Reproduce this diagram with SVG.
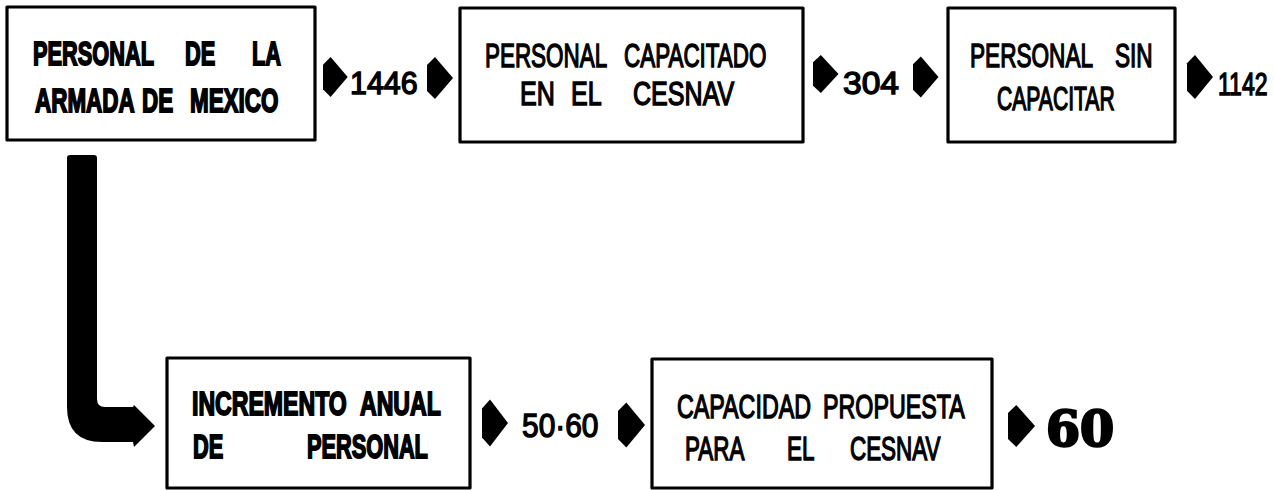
<svg xmlns="http://www.w3.org/2000/svg" xmlns:xlink="http://www.w3.org/1999/xlink" width="1274" height="490" viewBox="0 0 1274 490">
<style>
.box{fill:#fff;stroke:#000;stroke-width:3.2;stroke-linejoin:round}
.t{font-family:"Liberation Sans",Arial,sans-serif;font-size:33px;fill:#000;stroke:#000;stroke-width:1.4}
.tb{font-family:"Liberation Sans",Arial,sans-serif;font-size:33px;font-weight:bold;fill:#000;stroke:#000;stroke-width:1.8}
.n{font-family:"Liberation Sans",Arial,sans-serif;font-size:32px;fill:#000;stroke:#000;stroke-width:1.4}
.big{font-family:"DejaVu Serif","Liberation Serif",serif;font-size:49px;font-weight:bold;fill:#000;stroke:#000;stroke-width:2.4}
.arr{fill:#000}
</style>
<defs>
<path id="ah" d="M0,-13 L8,-21 L26,0 L8,21 L0,13 Z"/>
</defs>
<rect width="1274" height="490" fill="#fff"/>

<g id="node-personal-armada">
<rect class="box" x="7" y="7" width="308" height="133"/>
<text class="tb" transform="translate(33,65) scale(0.66,1)"><tspan x="0" y="0">PERSONAL</tspan><tspan x="230.3" y="0">DE</tspan><tspan x="331.8" y="0">LA</tspan></text>
<text class="tb" transform="translate(35,112) scale(0.68,1)"><tspan x="0" y="0">ARMADA</tspan><tspan x="157.4" y="0">DE</tspan><tspan x="227.9" y="0">MEXICO</tspan></text>
</g>

<g id="node-personal-capacitado">
<rect class="box" x="460" y="8" width="343" height="134"/>
<text class="t" transform="translate(485,67) scale(0.68,1)"><tspan x="0" y="0">PERSONAL</tspan><tspan x="204.4" y="0">CAPACITADO</tspan></text>
<text class="t" transform="translate(520,105) scale(0.76,1)"><tspan x="0" y="0">EN</tspan><tspan x="67.1" y="0">EL</tspan><tspan x="148.7" y="0">CESNAV</tspan></text>
</g>

<g id="node-personal-sin-capacitar">
<rect class="box" x="948" y="8" width="227" height="134"/>
<text class="t" transform="translate(970,67) scale(0.685,1)"><tspan x="0" y="0">PERSONAL</tspan><tspan x="211.7" y="0">SIN</tspan></text>
<text class="t" transform="translate(997,110) scale(0.64,1)">CAPACITAR</text>
</g>

<g id="node-incremento-anual">
<rect class="box" x="167" y="358" width="303" height="130"/>
<text class="tb" transform="translate(192,415) scale(0.7,1)"><tspan x="0" y="0">INCREMENTO</tspan><tspan x="240" y="0">ANUAL</tspan></text>
<text class="tb" transform="translate(193,458) scale(0.66,1)"><tspan x="0" y="0">DE</tspan><tspan x="172.7" y="0">PERSONAL</tspan></text>
</g>

<g id="node-capacidad-propuesta">
<rect class="box" x="652" y="359" width="340" height="129"/>
<text class="t" transform="translate(677,418) scale(0.705,1)"><tspan x="0" y="0">CAPACIDAD</tspan><tspan x="207.1" y="0">PROPUESTA</tspan></text>
<text class="t" transform="translate(685,460) scale(0.68,1)"><tspan x="0" y="0">PARA</tspan><tspan x="150" y="0">EL</tspan><tspan x="242.6" y="0">CESNAV</tspan></text>
</g>

<g id="connectors">
<path class="arr" d="M67,158 Q67,155 70,155 L94,155 Q97,155 97,158 L97,399 Q97,407 105,407 L133,407 L134,405 L155,426 L134,447 L133,442 L102,442 Q67,442 67,407 Z"/>
<use xlink:href="#ah" transform="translate(323,77) scale(0.95,0.95)"/>
<text class="n" transform="translate(350,94) scale(0.95,1)">1446</text>
<use xlink:href="#ah" transform="translate(427,78)"/>
<use xlink:href="#ah" transform="translate(813,74) scale(0.98,0.9)"/>
<text class="n" transform="translate(843,94) scale(1.05,1)">304</text>
<use xlink:href="#ah" transform="translate(913,77) scale(0.98,0.98)"/>
<use xlink:href="#ah" transform="translate(1187,77) scale(1,1.05)"/>
<text class="n" transform="translate(1218,95) scale(0.72,1)">1142</text>
<use xlink:href="#ah" transform="translate(482,423) scale(1,1.12)"/>
<text class="n" style="font-size:34px" transform="translate(522,437) scale(0.88,1)">50·60</text>
<use xlink:href="#ah" transform="translate(618,425) scale(1.04,1.07)"/>
<use xlink:href="#ah" transform="translate(1008,426) scale(1.04,1)"/>
<text class="big" x="1046" y="446">60</text>
</g>
</svg>
